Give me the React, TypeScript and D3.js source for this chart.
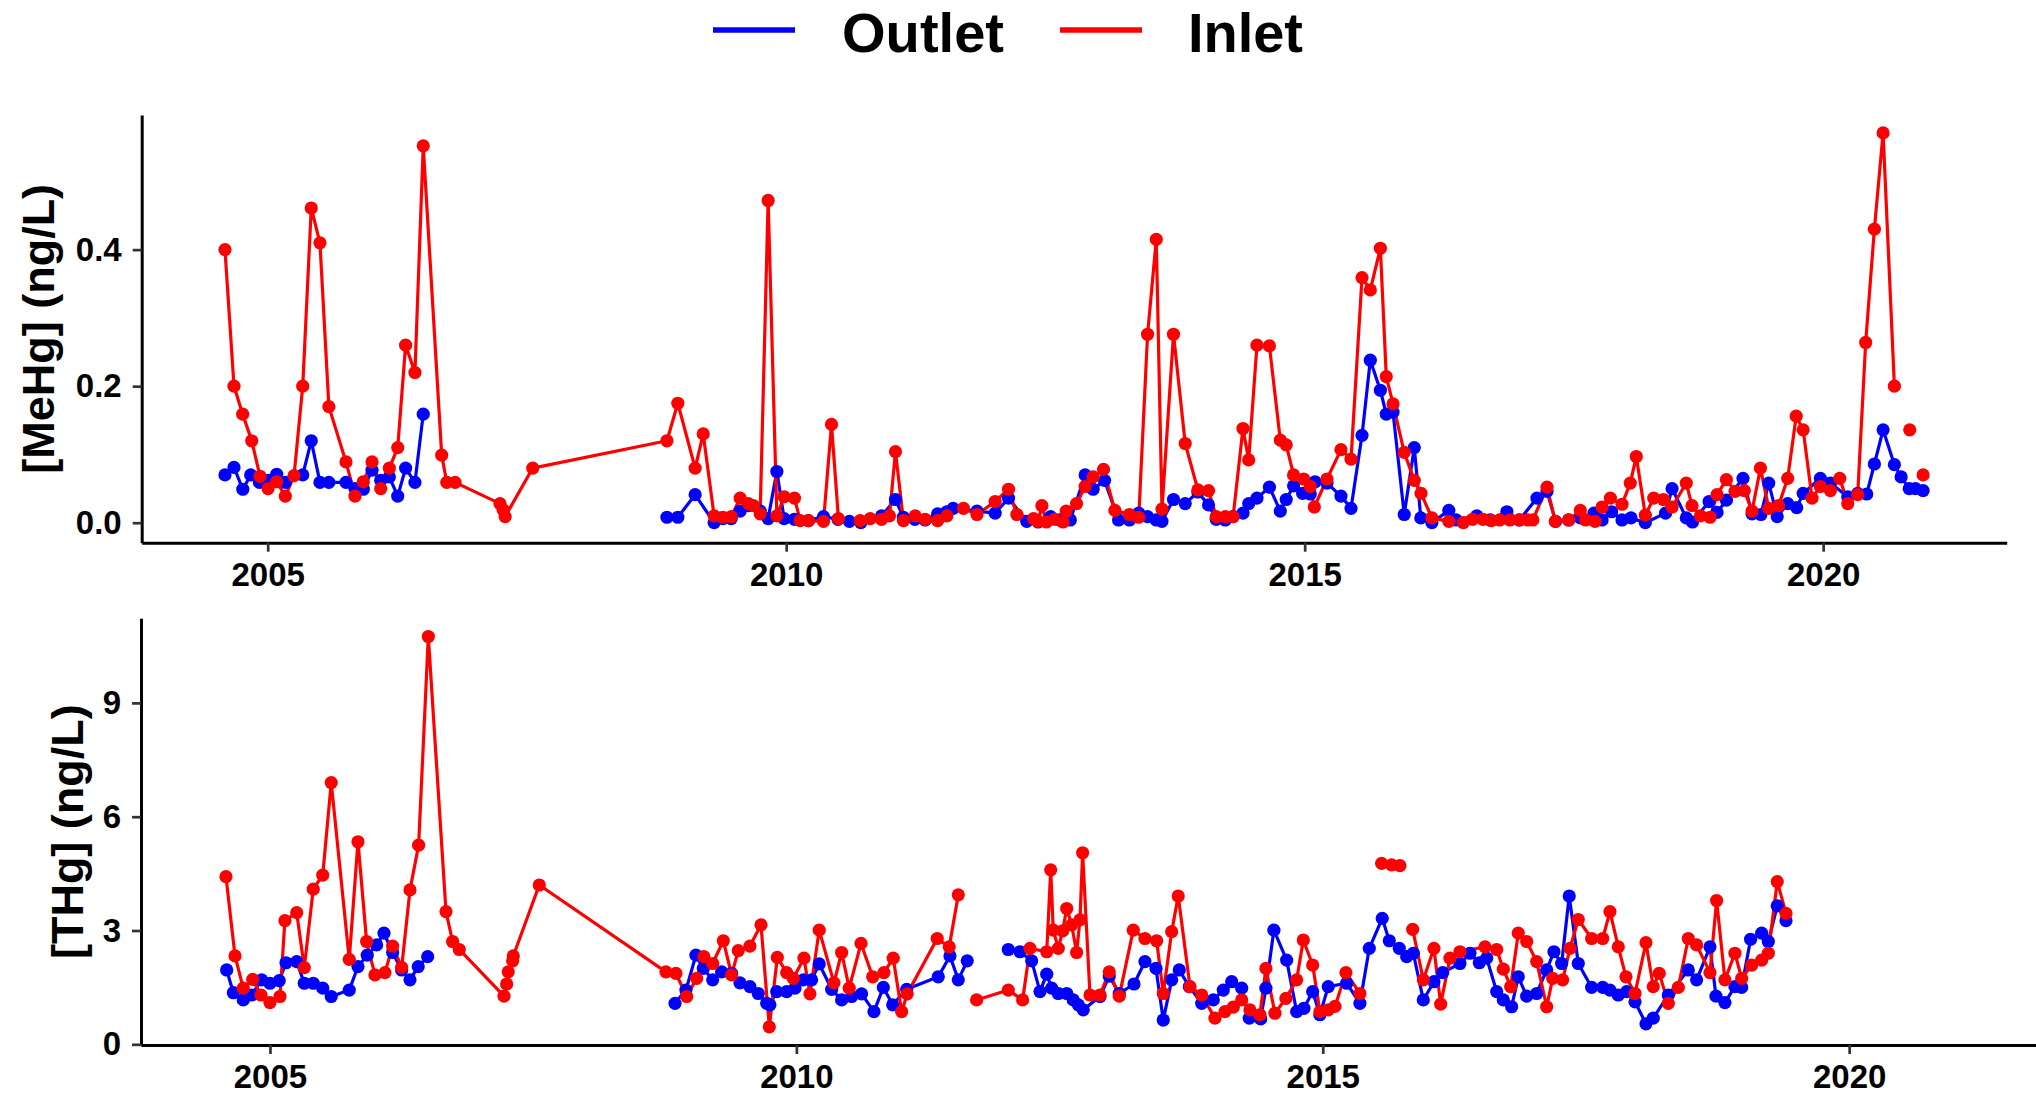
import React, { useEffect, useRef } from "react";
import * as d3 from "d3";

type Pt = [number, number] | null;

// [MeHg] (ng/L) — decimal year, value ; null breaks the line
const mehgOutlet: Pt[] = [
  [2004.588, 0.07], [2004.675, 0.081], [2004.76, 0.049], [2004.836, 0.07], [2004.92, 0.059],
  [2005.006, 0.062], [2005.087, 0.071], [2005.17, 0.059], [2005.338, 0.07], [2005.42, 0.12],
  [2005.504, 0.059], [2005.59, 0.059], [2005.755, 0.059], [2005.842, 0.05], [2005.922, 0.049],
  [2006.006, 0.077], [2006.09, 0.062], [2006.173, 0.067], [2006.254, 0.039], [2006.33, 0.08],
  [2006.42, 0.059], [2006.5, 0.159],
  null,
  [2008.85, 0.008], [2008.955, 0.008], [2009.122, 0.041], [2009.305, 0.0], [2009.39, 0.006],
  [2009.47, 0.006], [2009.556, 0.017], [2009.636, 0.025], [2009.75, 0.017], [2009.826, 0.006],
  [2009.91, 0.075], [2009.98, 0.006], [2010.08, 0.005], [2010.215, 0.003], [2010.36, 0.009],
  [2010.5, 0.005], [2010.61, 0.002], [2010.72, 0.0], [2010.92, 0.01], [2011.054, 0.034],
  [2011.13, 0.008], [2011.24, 0.005], [2011.34, 0.004], [2011.46, 0.013], [2011.55, 0.016],
  [2011.61, 0.021], [2011.84, 0.017], [2012.015, 0.014], [2012.144, 0.036], [2012.32, 0.002],
  [2012.43, 0.001], [2012.55, 0.009], [2012.64, 0.004], [2012.74, 0.004], [2012.883, 0.07],
  [2012.96, 0.049], [2013.07, 0.062], [2013.205, 0.004], [2013.31, 0.004], [2013.4, 0.014],
  [2013.485, 0.009], [2013.569, 0.004], [2013.624, 0.002], [2013.735, 0.034], [2013.848, 0.028],
  [2013.97, 0.045], [2014.073, 0.026], [2014.147, 0.005], [2014.234, 0.004], [2014.31, 0.009],
  [2014.405, 0.014], [2014.46, 0.028], [2014.54, 0.036], [2014.66, 0.052], [2014.765, 0.017],
  [2014.822, 0.034], [2014.893, 0.054], [2014.98, 0.043], [2015.054, 0.042], [2015.1, 0.06],
  [2015.215, 0.058], [2015.35, 0.039], [2015.447, 0.021], [2015.553, 0.128], [2015.633, 0.238],
  [2015.73, 0.194], [2015.787, 0.159], [2015.852, 0.162], [2015.96, 0.012], [2016.057, 0.11],
  [2016.12, 0.007], [2016.227, 0.0], [2016.39, 0.018], [2016.46, 0.004], [2016.66, 0.01],
  [2016.79, 0.004], [2016.95, 0.016], [2017.07, 0.004], [2017.24, 0.036], [2017.337, 0.046],
  [2017.42, 0.002], [2017.546, 0.004], [2017.658, 0.007], [2017.79, 0.014], [2017.868, 0.004],
  [2017.96, 0.016], [2018.06, 0.004], [2018.147, 0.007], [2018.285, 0.0], [2018.48, 0.014],
  [2018.543, 0.05], [2018.68, 0.007], [2018.74, 0.001], [2018.9, 0.031], [2018.977, 0.015],
  [2019.067, 0.033], [2019.227, 0.065], [2019.314, 0.013], [2019.4, 0.012], [2019.475, 0.058],
  [2019.557, 0.009], [2019.658, 0.028], [2019.745, 0.022], [2019.807, 0.043], [2019.973, 0.065],
  [2020.07, 0.058], [2020.237, 0.038], [2020.333, 0.043], [2020.42, 0.042], [2020.494, 0.086],
  [2020.578, 0.136], [2020.687, 0.085], [2020.752, 0.067], [2020.83, 0.05], [2020.89, 0.05],
  [2020.964, 0.047],
];

const mehgInlet: Pt[] = [
  [2004.588, 0.4], [2004.675, 0.2], [2004.759, 0.159], [2004.846, 0.12], [2004.926, 0.068],
  [2005.003, 0.05], [2005.087, 0.06], [2005.17, 0.039], [2005.254, 0.069], [2005.338, 0.2],
  [2005.42, 0.461], [2005.504, 0.41], [2005.59, 0.17], [2005.755, 0.089], [2005.842, 0.039],
  [2005.922, 0.06], [2006.006, 0.089], [2006.09, 0.05], [2006.173, 0.08], [2006.254, 0.11],
  [2006.33, 0.26], [2006.42, 0.22], [2006.5, 0.552], [2006.678, 0.099], [2006.727, 0.059],
  [2006.807, 0.059], [2007.24, 0.028], [2007.27, 0.019], [2007.29, 0.009], [2007.556, 0.08],
  [2008.85, 0.12], [2008.955, 0.175], [2009.122, 0.08], [2009.2, 0.13], [2009.305, 0.01],
  [2009.389, 0.008], [2009.47, 0.009], [2009.556, 0.036], [2009.636, 0.028], [2009.684, 0.025],
  [2009.749, 0.013], [2009.826, 0.472], [2009.91, 0.01], [2009.98, 0.038], [2010.08, 0.036],
  [2010.135, 0.003], [2010.215, 0.003], [2010.36, 0.002], [2010.437, 0.144], [2010.504, 0.006],
  [2010.713, 0.003], [2010.81, 0.006], [2010.92, 0.005], [2010.996, 0.01], [2011.054, 0.104],
  [2011.131, 0.003], [2011.244, 0.01], [2011.34, 0.005], [2011.46, 0.003], [2011.55, 0.01],
  [2011.71, 0.021], [2011.84, 0.012], [2012.015, 0.031], [2012.144, 0.049], [2012.225, 0.012],
  [2012.385, 0.006], [2012.43, 0.002], [2012.466, 0.025], [2012.51, 0.001], [2012.59, 0.005],
  [2012.67, 0.001], [2012.7, 0.017], [2012.8, 0.028], [2012.883, 0.053], [2012.96, 0.067],
  [2013.06, 0.078], [2013.17, 0.018], [2013.31, 0.012], [2013.4, 0.008], [2013.485, 0.276],
  [2013.569, 0.415], [2013.624, 0.02], [2013.735, 0.276], [2013.848, 0.116], [2013.97, 0.048],
  [2014.073, 0.047], [2014.147, 0.009], [2014.234, 0.009], [2014.31, 0.009], [2014.405, 0.138],
  [2014.46, 0.092], [2014.54, 0.26], [2014.66, 0.259], [2014.765, 0.121], [2014.822, 0.114],
  [2014.893, 0.07], [2014.99, 0.064], [2015.054, 0.053], [2015.093, 0.023], [2015.215, 0.064],
  [2015.35, 0.107], [2015.447, 0.093], [2015.553, 0.359], [2015.633, 0.341], [2015.73, 0.402],
  [2015.787, 0.214], [2015.852, 0.174], [2015.96, 0.103], [2016.057, 0.062], [2016.122, 0.043],
  [2016.227, 0.007], [2016.39, 0.002], [2016.53, 0.0], [2016.62, 0.005], [2016.72, 0.005],
  [2016.8, 0.003], [2016.88, 0.004], [2016.98, 0.004], [2017.07, 0.004], [2017.15, 0.004],
  [2017.2, 0.004], [2017.337, 0.052], [2017.417, 0.002], [2017.546, 0.004], [2017.658, 0.018],
  [2017.71, 0.004], [2017.8, 0.002], [2017.868, 0.023], [2017.948, 0.036], [2018.06, 0.027],
  [2018.14, 0.058], [2018.198, 0.097], [2018.285, 0.011], [2018.366, 0.036], [2018.46, 0.034],
  [2018.543, 0.023], [2018.68, 0.058], [2018.735, 0.025], [2018.816, 0.01], [2018.91, 0.008],
  [2018.977, 0.041], [2019.067, 0.063], [2019.15, 0.046], [2019.24, 0.047], [2019.314, 0.017],
  [2019.395, 0.08], [2019.475, 0.021], [2019.57, 0.025], [2019.658, 0.065], [2019.74, 0.156],
  [2019.807, 0.136], [2019.893, 0.036], [2019.973, 0.053], [2020.07, 0.047], [2020.16, 0.065],
  [2020.237, 0.028], [2020.333, 0.041], [2020.41, 0.264], [2020.494, 0.43], [2020.578, 0.571],
  [2020.687, 0.2],
  null,
  [2020.835, 0.136],
  null,
  [2020.964, 0.07],
];

// [THg] (ng/L)
const thgOutlet: Pt[] = [
  [2004.589, 1.96], [2004.652, 1.36], [2004.746, 1.17], [2004.826, 1.3], [2004.921, 1.7],
  [2005.0, 1.61], [2005.088, 1.68], [2005.152, 2.15], [2005.254, 2.18], [2005.326, 1.61],
  [2005.411, 1.61], [2005.501, 1.48], [2005.582, 1.26], [2005.753, 1.43], [2005.836, 2.05],
  [2005.924, 2.35], [2006.013, 2.62], [2006.083, 2.93], [2006.165, 2.42], [2006.251, 1.96],
  [2006.33, 1.7], [2006.408, 2.05], [2006.498, 2.31],
  null,
  [2008.847, 1.08], [2008.951, 1.43], [2009.046, 2.35], [2009.116, 2.0], [2009.205, 1.7],
  [2009.29, 1.91], [2009.385, 1.87], [2009.464, 1.62], [2009.559, 1.52], [2009.638, 1.34],
  [2009.718, 1.08], [2009.749, 1.04], [2009.813, 1.39], [2009.908, 1.39], [2009.987, 1.48],
  [2010.066, 1.7], [2010.145, 1.7], [2010.217, 2.12], [2010.335, 1.45], [2010.43, 1.17],
  [2010.525, 1.26], [2010.62, 1.33], [2010.737, 0.86], [2010.826, 1.5], [2010.915, 1.04],
  [2011.048, 1.45], [2011.348, 1.78], [2011.459, 2.33], [2011.538, 1.7], [2011.623, 2.2],
  null,
  [2012.013, 2.5], [2012.124, 2.44], [2012.235, 2.2], [2012.314, 1.39], [2012.378, 1.85],
  [2012.425, 1.48], [2012.488, 1.34], [2012.568, 1.34], [2012.63, 1.17], [2012.678, 1.04],
  [2012.725, 0.91], [2012.884, 1.26], [2012.972, 1.8], [2013.067, 1.34], [2013.207, 1.59],
  [2013.311, 2.18], [2013.416, 2.0], [2013.485, 0.64], [2013.565, 1.7], [2013.637, 1.96],
  [2013.732, 1.52], [2013.85, 1.08], [2013.96, 1.17], [2014.055, 1.43], [2014.135, 1.65],
  [2014.23, 1.48], [2014.302, 0.69], [2014.41, 0.67], [2014.46, 1.48], [2014.536, 3.01],
  [2014.657, 2.22], [2014.752, 0.86], [2014.821, 0.95], [2014.904, 1.39], [2014.973, 0.78],
  [2015.052, 1.52], [2015.227, 1.61], [2015.353, 1.08], [2015.442, 2.53], [2015.565, 3.32],
  [2015.632, 2.73], [2015.727, 2.53], [2015.797, 2.31], [2015.86, 2.4], [2015.955, 1.17],
  [2016.056, 1.65], [2016.139, 1.89], [2016.303, 2.13], [2016.398, 2.4], [2016.487, 2.15],
  [2016.557, 2.27], [2016.652, 1.39], [2016.715, 1.17], [2016.794, 0.99], [2016.857, 1.78],
  [2016.937, 1.27], [2017.032, 1.34], [2017.127, 1.96], [2017.196, 2.44], [2017.269, 2.13],
  [2017.341, 3.91], [2017.427, 2.13], [2017.554, 1.5], [2017.659, 1.5], [2017.728, 1.43],
  [2017.807, 1.3], [2017.887, 1.39], [2017.966, 1.12], [2018.07, 0.54], [2018.139, 0.69],
  [2018.282, 1.3], [2018.472, 1.96], [2018.551, 1.7], [2018.678, 2.57], [2018.735, 1.27],
  [2018.82, 1.1], [2018.915, 1.52], [2018.979, 1.5], [2019.064, 2.77], [2019.169, 2.93],
  [2019.232, 2.71], [2019.317, 3.65], [2019.4, 3.26],
];

const thgInlet: Pt[] = [
  [2004.582, 4.42], [2004.668, 2.33], [2004.746, 1.48], [2004.836, 1.71], [2004.915, 1.3],
  [2005.0, 1.1], [2005.095, 1.26], [2005.142, 3.26], [2005.254, 3.47], [2005.326, 2.02],
  [2005.411, 4.09], [2005.501, 4.46], [2005.582, 6.9], [2005.753, 2.24], [2005.836, 5.34],
  [2005.918, 2.71], [2005.997, 1.83], [2006.092, 1.89], [2006.165, 2.59], [2006.251, 2.03],
  [2006.33, 4.07], [2006.412, 5.25], [2006.504, 10.75], [2006.672, 3.5], [2006.735, 2.71],
  [2006.798, 2.5], [2007.223, 1.27], [2007.248, 1.59], [2007.263, 1.91], [2007.305, 2.2],
  [2007.311, 2.33], [2007.558, 4.2], [2008.761, 1.91], [2008.856, 1.87], [2008.958, 1.26],
  [2009.053, 1.74], [2009.122, 2.31], [2009.205, 2.13], [2009.306, 2.73], [2009.385, 1.83],
  [2009.448, 2.47], [2009.559, 2.59], [2009.664, 3.15], [2009.743, 0.46], [2009.819, 2.29],
  [2009.908, 1.89], [2009.971, 1.74], [2010.072, 2.27], [2010.129, 1.33], [2010.217, 3.01],
  [2010.357, 1.62], [2010.43, 2.42], [2010.502, 1.48], [2010.614, 2.66], [2010.725, 1.78],
  [2010.832, 1.89], [2010.92, 2.27], [2011.0, 0.86], [2011.053, 1.33], [2011.338, 2.79],
  [2011.452, 2.57], [2011.538, 3.94],
  null,
  [2011.712, 1.17], [2012.013, 1.43], [2012.149, 1.17], [2012.219, 2.53], [2012.378, 2.44],
  [2012.416, 4.6], [2012.44, 3.01], [2012.488, 2.53], [2012.529, 2.99], [2012.568, 3.58],
  [2012.615, 3.15], [2012.662, 2.42], [2012.694, 3.28], [2012.719, 5.05], [2012.789, 1.3],
  [2012.884, 1.3], [2012.972, 1.91], [2013.067, 1.27], [2013.2, 3.01], [2013.311, 2.79],
  [2013.422, 2.73], [2013.485, 1.34], [2013.565, 2.97], [2013.627, 3.91], [2013.739, 1.52],
  [2013.85, 1.3], [2013.976, 0.69], [2014.071, 0.86], [2014.15, 0.98], [2014.23, 1.17],
  [2014.308, 0.91], [2014.403, 0.78], [2014.46, 2.0], [2014.546, 0.82], [2014.65, 1.21],
  [2014.752, 1.7], [2014.815, 2.75], [2014.904, 2.09], [2014.973, 0.86], [2015.052, 0.91],
  [2015.116, 1.0], [2015.22, 1.89], [2015.353, 1.34],
  null,
  [2015.559, 4.77], [2015.654, 4.73], [2015.733, 4.71],
  null,
  [2015.854, 3.03], [2015.955, 1.7], [2016.056, 2.53], [2016.12, 1.06], [2016.208, 2.27],
  [2016.303, 2.44], [2016.541, 2.57], [2016.652, 2.5], [2016.715, 1.98], [2016.785, 1.52],
  [2016.857, 2.93], [2016.937, 2.71], [2017.032, 2.18], [2017.127, 0.99], [2017.184, 1.74],
  [2017.279, 1.7], [2017.348, 2.53], [2017.427, 3.29], [2017.554, 2.79], [2017.659, 2.79],
  [2017.728, 3.5], [2017.807, 2.57], [2017.88, 1.78], [2017.966, 1.34], [2018.07, 2.68],
  [2018.139, 1.52], [2018.196, 1.87], [2018.282, 1.08], [2018.377, 1.5], [2018.472, 2.79],
  [2018.551, 2.62], [2018.678, 1.89], [2018.741, 3.79], [2018.82, 1.7], [2018.915, 2.4],
  [2018.979, 1.74], [2019.074, 2.09], [2019.169, 2.22], [2019.232, 2.4], [2019.317, 4.29],
  [2019.4, 3.45],
];

const yearTicks = [2005, 2010, 2015, 2020];
const mehgTicks = [0, 0.2, 0.4];
const thgTicks = [0, 3, 6, 9];
const legendLabels = ["Outlet", "Inlet"];
const colors = { Outlet: "#0000ff", Inlet: "#ff0000" };

const FONT = "'Liberation Sans', Arial, Helvetica, sans-serif";

const App = () => {
  const svgRef = useRef<SVGSVGElement | null>(null);

  useEffect(() => {
    const svg = d3.select(svgRef.current);
    svg.selectAll("*").remove();

    const drawPanel = (
      outlet: Pt[],
      inlet: Pt[],
      x: d3.ScaleLinear<number, number>,
      y: d3.ScaleLinear<number, number>,
      yTicks: number[],
      yFmt: (n: number) => string,
      title: string,
      titleX: number
    ) => {
      const g = svg.append("g");
      const [x0] = x.range();
      const [y0, y1] = y.range();

      // x axis
      const xAxis = g.append("g")
        .attr("transform", `translate(0,${y0})`)
        .call(d3.axisBottom(x).tickValues(yearTicks).tickFormat(d3.format("d")).tickSize(9).tickSizeOuter(0).tickPadding(11));
      // y axis
      const yAxis = g.append("g")
        .attr("transform", `translate(${x0},0)`)
        .call(d3.axisLeft(y).tickValues(yTicks).tickFormat(yFmt as any).tickSize(9).tickSizeOuter(0).tickPadding(11));

      [xAxis, yAxis].forEach(a => {
        a.select(".domain").attr("stroke", "#000").attr("stroke-width", 3);
        a.selectAll(".tick line").attr("stroke", "#333").attr("stroke-width", 2.7);
        a.selectAll(".tick text")
          .attr("fill", "#000")
          .style("font-family", FONT)
          .style("font-weight", "bold")
          .style("font-size", "33px");
      });

      // y title
      g.append("text")
        .attr("transform", `translate(${titleX},${(y0 + y1) / 2}) rotate(-90)`)
        .attr("text-anchor", "middle")
        .style("font-family", FONT)
        .style("font-weight", "bold")
        .style("font-size", "45px")
        .attr("fill", "#000")
        .text(title);

      const line = d3.line<Pt>()
        .defined(d => d !== null)
        .x(d => x(d![0]))
        .y(d => y(d![1]));

      const series: [Pt[], string][] = [[outlet, colors.Outlet], [inlet, colors.Inlet]];
      series.forEach(([data, c]) => {
        g.append("path")
          .datum(data)
          .attr("d", line)
          .attr("fill", "none")
          .attr("stroke", c)
          .attr("stroke-width", 3.2)
          .attr("stroke-linejoin", "round");
      });
      series.forEach(([data, c]) => {
        g.append("g").selectAll("circle")
          .data(data.filter(d => d !== null) as [number, number][])
          .join("circle")
          .attr("cx", d => x(d[0]))
          .attr("cy", d => y(d[1]))
          .attr("r", 6.6)
          .attr("fill", c);
      });
    };

    const xTop = d3.scaleLinear().domain([2003.785, 2021.77]).range([141.7, 2006.7]);
    const yTop = d3.scaleLinear().domain([-0.0293, 0.5972]).range([542.7, 115]);
    drawPanel(mehgOutlet, mehgInlet, xTop, yTop, mehgTicks, d3.format(".1f"), "[MeHg] (ng/L)", 54);

    const xBot = d3.scaleLinear().domain([2003.775, 2021.77]).range([141, 2035.5]);
    const yBot = d3.scaleLinear().domain([-0.018, 11.23]).range([1045, 618.3]);
    drawPanel(thgOutlet, thgInlet, xBot, yBot, thgTicks, d3.format("d"), "[THg] (ng/L)", 83);

    // legend
    const legend = svg.append("g");
    const legendPos = [
      { lx: 713, tx: 842, len: 162 },
      { lx: 1060, tx: 1188, len: 115 },
    ];
    legendLabels.forEach((lab, i) => {
      const p = legendPos[i];
      legend.append("line")
        .attr("x1", p.lx).attr("x2", p.lx + 82)
        .attr("y1", 30).attr("y2", 30)
        .attr("stroke", colors[lab as keyof typeof colors])
        .attr("stroke-width", 5.5);
      legend.append("text")
        .attr("x", p.tx)
        .attr("y", 52)
        .attr("textLength", p.len)
        .attr("lengthAdjust", "spacingAndGlyphs")
        .style("font-family", FONT)
        .style("font-weight", "bold")
        .style("font-size", "56px")
        .attr("fill", "#000")
        .text(lab);
    });
  }, []);

  return (
    <div style={{ position: "absolute", left: 0, top: 0 }}>
      <svg ref={svgRef} width={2036} height={1098} style={{ display: "block", background: "#fff" }} />
    </div>
  );
};

export default App;
